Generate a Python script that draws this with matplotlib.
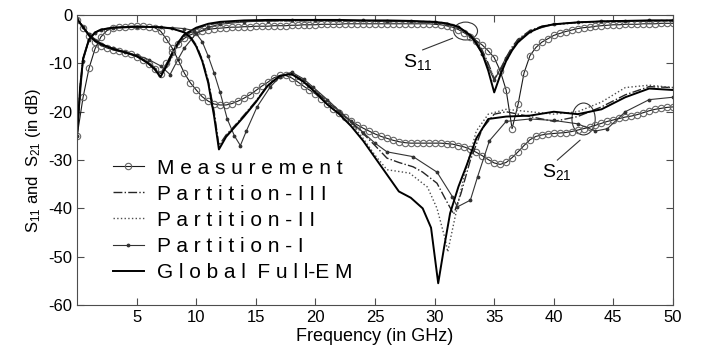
import numpy as np
import matplotlib
matplotlib.use("Agg")
import matplotlib.pyplot as plt
from matplotlib.patches import Ellipse

plt.rcParams["font.family"] = ["Liberation Sans", "DejaVu Sans"]
plt.rcParams["mathtext.fontset"] = "custom"
plt.rcParams["mathtext.rm"] = "Liberation Sans"
plt.rcParams["mathtext.it"] = "Liberation Sans"
plt.rcParams["axes.unicode_minus"] = False
plt.rcParams["xtick.direction"] = "in"
plt.rcParams["ytick.direction"] = "in"

# measured data, 0.5 GHz steps
f_meas = np.arange(0, 50.5, 0.5)
s11_meas = [-1.0, -2.6, -4.3, -5.5, -6.3, -6.8, -7.2, -7.5, -7.8, -8.1,
            -8.6, -9.3, -10.2, -11.2, -12.1, -10.0, -7.6, -5.9, -4.8, -4.1,
            -3.6, -3.3, -3.0, -2.8, -2.7, -2.6, -2.5, -2.5, -2.4, -2.4,
            -2.3, -2.3, -2.3, -2.2, -2.2, -2.2, -2.1, -2.1, -2.0, -2.0,
            -2.0, -1.9, -1.9, -1.9, -1.9, -1.8, -1.8, -1.8, -1.8, -1.8,
            -1.8, -1.8, -1.8, -1.8, -1.8, -1.8, -1.8, -1.8, -1.8, -1.8,
            -1.9, -2.0, -2.2, -2.5, -3.0, -3.7, -4.5, -5.3, -6.2, -7.4,
            -8.8, -11.5, -15.5, -23.5, -18.5, -12.0, -8.4, -6.7, -5.6, -4.9,
            -4.2, -3.8, -3.4, -3.1, -2.8, -2.6, -2.5, -2.3, -2.2, -2.1,
            -2.0, -2.0, -1.9, -1.9, -1.9, -1.8, -1.8, -1.8, -1.7, -1.7, -1.7]
s21_meas = [-25.0, -17.0, -11.0, -7.0, -4.5, -3.2, -2.7, -2.5, -2.4, -2.3,
            -2.3, -2.3, -2.4, -2.6, -3.3, -5.0, -6.9, -9.4, -12.0, -14.0,
            -15.5, -16.9, -17.8, -18.4, -18.6, -18.6, -18.3, -17.8, -17.2, -16.5,
            -15.6, -14.7, -13.9, -13.0, -12.5, -12.5, -13.0, -13.8, -14.7, -15.5,
            -16.3, -17.4, -18.5, -19.5, -20.3, -21.1, -21.9, -22.7, -23.4, -24.0,
            -24.6, -25.1, -25.5, -25.9, -26.2, -26.4, -26.5, -26.5, -26.5, -26.5,
            -26.5, -26.5, -26.6, -26.7, -27.0, -27.3, -27.8, -28.4, -29.1, -29.9,
            -30.6, -30.9, -30.5, -29.5, -28.3, -27.0, -25.8, -25.1, -24.8, -24.6,
            -24.5, -24.4, -24.3, -24.1, -23.8, -23.5, -23.2, -22.8, -22.4, -22.0,
            -21.7, -21.4, -21.1, -20.9, -20.6, -20.2, -19.8, -19.5, -19.3, -19.1, -19.0]

# simulated S11
f11 = [0, 0.5, 1, 1.5, 2, 3, 4, 5, 6, 6.5, 7, 7.5, 8, 8.5, 9, 10, 11, 12, 14, 16, 18, 20, 22,
       24, 26, 28, 30, 31, 32, 33, 33.5, 34, 34.5, 35, 35.5, 36, 36.5, 37, 38, 39, 40, 42,
       44, 46, 48, 50]
s11_glob = [-0.8, -2.5, -4.2, -5.3, -6.0, -7.0, -7.7, -8.5, -10.0, -11.2, -12.8, -10.5, -7.8,
            -5.6, -4.0, -2.6, -1.8, -1.4, -1.1, -1.0, -1.0, -1.0, -1.0, -1.1, -1.1, -1.2, -1.4,
            -1.7, -2.4, -4.2, -5.8, -8.0, -11.5, -16.0, -12.5, -9.5, -7.3, -5.6, -3.5, -2.4,
            -1.9, -1.5, -1.3, -1.2, -1.1, -1.1]
s11_p3 = [-0.8, -2.4, -4.0, -5.2, -5.9, -6.9, -7.6, -8.4, -9.8, -10.9, -12.2, -10.8, -8.2,
          -6.0, -4.4, -2.8, -2.0, -1.6, -1.3, -1.2, -1.2, -1.2, -1.2, -1.2, -1.3, -1.3, -1.5,
          -1.8, -2.5, -4.0, -5.4, -7.3, -10.0, -13.2, -11.6, -8.8, -6.6, -5.0, -3.2, -2.3,
          -1.9, -1.5, -1.3, -1.2, -1.2, -1.1]
s11_p2 = [-0.8, -2.4, -4.1, -5.2, -5.9, -6.9, -7.6, -8.4, -9.7, -10.8, -12.0, -11.0, -8.5,
          -6.2, -4.6, -2.9, -2.1, -1.6, -1.3, -1.2, -1.2, -1.2, -1.2, -1.2, -1.3, -1.4, -1.5,
          -1.9, -2.6, -4.1, -5.5, -7.5, -10.3, -13.0, -11.8, -9.2, -7.0, -5.3, -3.4, -2.4,
          -2.0, -1.6, -1.4, -1.3, -1.2, -1.2]
f11_p1 = [0, 0.5, 1, 2, 3, 4, 5, 6, 7, 7.8, 8.5, 9, 10, 11, 12, 14, 16, 18, 20, 22, 24, 26,
          28, 30, 31, 32, 33, 34, 35, 36, 37, 38, 40, 42, 44, 46, 48, 50]
s11_p1 = [-0.8, -2.4, -4.0, -5.9, -6.9, -7.6, -8.3, -9.2, -10.5, -12.3, -9.0, -6.8, -3.8,
          -2.5, -1.9, -1.4, -1.2, -1.1, -1.1, -1.1, -1.1, -1.2, -1.3, -1.5, -1.8, -2.5, -4.3,
          -8.0, -13.5, -8.8, -5.2, -3.3, -1.9, -1.5, -1.3, -1.2, -1.1, -1.1]

# simulated S21
f21_glob = [0, 0.25, 0.5, 1, 1.5, 2, 3, 5, 7, 8, 9, 9.5, 10, 10.5, 11, 11.5, 11.9, 12.5, 13,
            14, 15, 16, 17, 18, 19, 20, 21, 22, 23, 24, 25, 26, 27, 28, 29, 29.7, 30.3, 30.8,
            31.3, 32, 32.7, 33.5, 34.5, 36, 38, 40, 42, 44, 46, 48, 50]
s21_glob = [-25, -15, -9, -5, -3.6, -3.0, -2.6, -2.4, -2.5, -2.8, -3.6, -4.6, -6.5, -9.5,
            -14, -21, -27.8, -25.2, -23.8, -21.0, -18.0, -14.6, -12.6, -12.2, -13.8, -16,
            -18.5, -20.5, -23, -26, -29.5, -33, -36.5, -37.8, -40, -44, -55.5, -48, -41,
            -35.5, -31, -25.5, -21.5, -21, -20.8, -20, -20.5, -19.5, -17, -15.2, -15.5]
f21_p3 = [0, 0.25, 0.5, 1, 1.5, 2, 3, 5, 7, 8, 9, 9.5, 10, 10.5, 11, 11.5, 11.9, 12.5, 13,
          14, 15, 16, 17, 18, 19, 20, 21, 22, 23, 24, 25, 26, 27, 28.2, 29, 30.2, 31, 31.6,
          32.2, 33, 34, 35, 36, 38, 40, 42, 44, 46, 48, 50]
s21_p3 = [-25, -15, -9, -5, -3.6, -3.0, -2.6, -2.4, -2.5, -2.8, -3.5, -4.4, -6.2, -9.2,
          -13.5, -20, -27, -24.8, -23.5, -20.7, -17.8, -14.5, -12.5, -12.1, -13.5, -15.7,
          -18, -20, -22.2, -24.5, -27, -29.6, -30.5, -31.4, -32.5, -34.8, -38.5, -41.2, -37,
          -30, -23.5, -20.5, -20, -21, -22, -21, -19, -16.5, -14.8, -15]
f21_p2 = [0, 0.25, 0.5, 1, 1.5, 2, 3, 5, 7, 8, 9, 9.5, 10, 10.5, 11, 11.5, 11.9, 12.5, 13,
          14, 15, 16, 17, 18, 19, 20, 21, 22, 23, 24, 25, 26, 27.9, 29.4, 30.2, 30.9, 31.1,
          31.7, 32.5, 33.5, 34.5, 36, 38, 40, 42, 44, 46, 48, 50]
s21_p2 = [-25, -15, -9, -5, -3.6, -3.0, -2.6, -2.4, -2.5, -2.8, -3.5, -4.4, -6.3, -9.3,
          -13.8, -20.5, -27.3, -24.9, -23.6, -20.8, -17.8, -14.6, -12.6, -12.1, -13.4, -15.5,
          -17.8, -20, -22.5, -25.5, -29, -32, -32.7, -35.6, -40, -46.5, -49, -42, -33, -24,
          -20.5, -19.5, -20, -20.5, -20, -18, -15, -14.5, -15]
f21_p1 = [0, 0.5, 1, 1.5, 2, 3, 5, 7, 8, 9, 9.8, 10.5, 11, 11.5, 12, 12.6, 13.2, 13.7, 14.2,
          15.1, 16.2, 17, 18, 19, 19.8, 21, 22, 23, 24, 25, 26, 28.2, 30.2, 31.5, 31.9, 33,
          33.6, 34.6, 36, 38, 40, 42, 43.5, 44.5, 46, 48, 50]
s21_p1 = [-25, -9.5, -5.2, -3.7, -3.1, -2.7, -2.5, -2.5, -2.6, -2.8, -3.2, -5.5, -8.5, -12,
          -16, -21.5, -25, -27, -24, -19, -14.9, -12.8, -11.8, -13.2, -14.9, -17.5, -19.8,
          -22, -24.3, -26.5, -28.3, -29.3, -32.5, -37.6, -39.7, -38.3, -33.5, -26, -22,
          -21.5, -21.8, -22.5, -24, -23.5, -20, -17.5, -17]

fig = plt.figure(figsize=(7.01, 3.51), dpi=100)
ax = fig.add_axes([0.110, 0.131, 0.850, 0.826])

meas_kw = dict(color="0.1", lw=0.8, marker="o", ms=4.6, mfc="none", mec="0.4", mew=0.8)
p3_kw = dict(color="0.15", lw=1.0, ls="-.")
p2_kw = dict(color="0.3", lw=1.0, ls=":")
p1_kw = dict(color="0.2", lw=0.8, marker=".", ms=3.5)
gl_kw = dict(color="k", lw=1.4)

ax.plot(f_meas, s11_meas, **meas_kw)
ax.plot(f11, s11_p3, **p3_kw)
ax.plot(f11, s11_p2, **p2_kw)
ax.plot(f11_p1, s11_p1, **p1_kw)
ax.plot(f11, s11_glob, **gl_kw)

ax.plot(f_meas, s21_meas, label="M e a s u r e m e n t", **meas_kw)
ax.plot(f21_p3, s21_p3, label="P a r t i t i o n - I I I", **p3_kw)
ax.plot(f21_p2, s21_p2, label="P a r t i t i o n - I I", **p2_kw)
ax.plot(f21_p1, s21_p1, label="P a r t i t i o n - I", **p1_kw)
ax.plot(f21_glob, s21_glob, label="G l o b a l  F u l l-E M", **gl_kw)

# annotations
ax.add_patch(Ellipse((32.6, -3.3), 2.0, 3.7, fill=False, color="0.2", lw=0.8))
ax.plot([29.0, 31.5], [-7.2, -4.8], color="0.2", lw=0.8)
ax.text(27.35, -9.7, "S$_{11}$", fontsize=14, va="center")
ax.add_patch(Ellipse((42.5, -21.5), 1.95, 6.6, fill=False, color="0.2", lw=0.8))
ax.plot([40.3, 42.2], [-30.0, -25.9], color="0.2", lw=0.8)
ax.text(39.0, -32.5, "S$_{21}$", fontsize=14, va="center")

ax.set_xlim(0, 50)
ax.set_ylim(-60, 0)
ax.set_xticks(np.arange(5, 51, 5))
ax.set_yticks(np.arange(-60, 1, 10))
ax.tick_params(top=True, right=True, labelsize=12, length=5, width=0.8, color="0.3")
for s in ax.spines.values():
    s.set_color("0.3")
ax.set_xlabel("Frequency (in GHz)", fontsize=13, labelpad=2)
ax.set_ylabel("S$_{11}$ and  S$_{21}$ (in dB)", fontsize=12, labelpad=4)

ax.legend(loc="upper left", bbox_to_anchor=(0.06, 0.505), frameon=False, fontsize=15,
          handlelength=1.5, handletextpad=0.6, labelspacing=0.34, borderpad=0,
          borderaxespad=0)

fig.savefig("out.png", dpi=100)
